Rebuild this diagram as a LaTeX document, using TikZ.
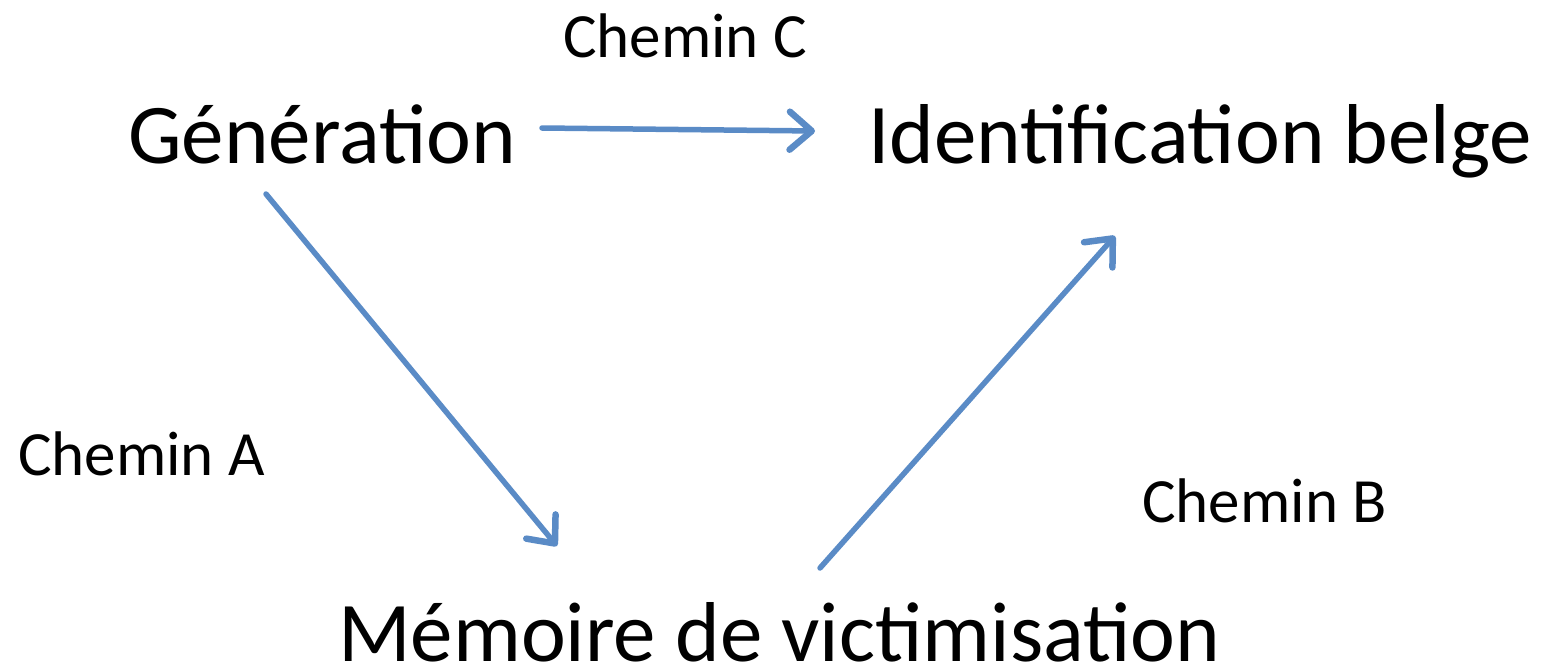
\documentclass[tikz,border=0pt]{standalone}
\usepackage{fontspec}
\setmainfont{Carlito}
\usetikzlibrary{arrows.meta}
\definecolor{arrowblue}{HTML}{5A8BC6}
\tikzset{
  big/.style={font=\fontsize{85}{100}\selectfont, inner sep=0pt, text depth=0pt, anchor=base west},
  small/.style={font=\fontsize{63}{70}\selectfont, inner sep=0pt, anchor=base west},
  conn/.style={draw=arrowblue, line width=5.5pt, line cap=round,
    -{Straight Barb[length=22pt,width=38pt,line width=6.5pt,line cap=round,line join=round]}}
}
\begin{document}
\begin{tikzpicture}[x=1pt,y=-1pt]
\useasboundingbox (0,0) rectangle (1544,669);
\node[big] (gen) at (128,163) {Génération};
\node[big] (ident) at (868,163) {Identification belge};
\node[big] (mem) at (338,661) {Mémoire de victimisation};
\node[small] (lc) at (563,57) {Chemin C};
\node[small] (la) at (18,475) {Chemin A};
\node[small] (lb) at (1142,522) {Chemin B};
\coordinate (c1) at (542,128);
\coordinate (c2) at (815,131);
\coordinate (a1) at (266,194);
\coordinate (a2) at (557,546);
\coordinate (b1) at (820,568);
\coordinate (b2) at (1115,236);
\draw[conn] (c1) -- (c2);
\draw[conn] (a1) -- (a2);
\draw[conn] (b1) -- (b2);
\end{tikzpicture}
\end{document}
